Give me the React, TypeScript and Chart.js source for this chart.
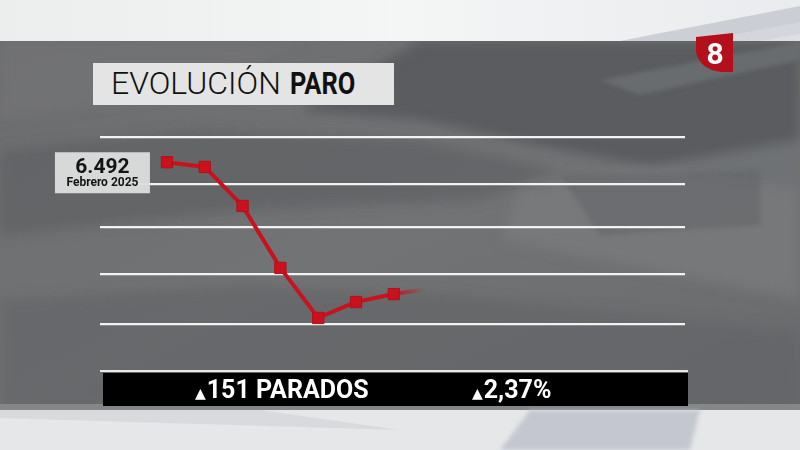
import React, { useEffect, useRef } from "react";
import { Chart, registerables } from "chart.js";

Chart.register(...registerables);

// ---- data ----
const months = ["Febrero 2025", "Marzo 2025", "Abril 2025", "Mayo 2025", "Junio 2025", "Julio 2025", "Agosto 2025"];
const parados = [6492, 6472, 6305, 6040, 5826, 5894, 5928];
const gridValues = [6600, 6399, 6214, 6014, 5800];
const titleLight = "EVOLUCIÓN";
const titleBold = "PARO";
const summaryParados = "151 PARADOS";
const summaryPct = "2,37%";
const channelLogo = "8";

const RED = "#c8121e";

function fmtThousands(v: number): string {
  return String(v).replace(/\B(?=(\d{3})+(?!\d))/g, ".");
}

const overlayPlugin = {
  id: "overlayPlugin",
  beforeDatasetsDraw(chart: any) {
    const pts = chart.getDatasetMeta(0).data;
    if (pts.length < 2) return;
    const ctx = chart.ctx;
    const a = pts[pts.length - 2];
    const b = pts[pts.length - 1];
    const dx = b.x - a.x;
    const dy = b.y - a.y;
    const len = Math.hypot(dx, dy);
    const ex = b.x + (dx / len) * 32;
    const ey = b.y + (dy / len) * 22;
    const g = ctx.createLinearGradient(b.x, b.y, ex, ey);
    g.addColorStop(0, "rgba(200,18,30,1)");
    g.addColorStop(1, "rgba(200,18,30,0)");
    ctx.save();
    ctx.strokeStyle = g;
    ctx.lineWidth = 4;
    ctx.lineCap = "butt";
    ctx.beginPath();
    ctx.moveTo(b.x, b.y);
    ctx.lineTo(ex, ey);
    ctx.stroke();
    ctx.restore();
  },
  afterDatasetsDraw(chart: any) {
    const pts = chart.getDatasetMeta(0).data;
    const p0 = pts[0];
    const ctx = chart.ctx;
    const w = 95;
    const h = 41;
    const x = p0.x - 17 - w;
    const y = p0.y - 10;
    ctx.save();
    ctx.fillStyle = "rgba(220,221,221,0.96)";
    ctx.fillRect(x, y, w, h);
    ctx.fillStyle = "#141414";
    ctx.textAlign = "center";
    ctx.textBaseline = "alphabetic";
    ctx.font = "bold 21px Roboto, 'DejaVu Sans', sans-serif";
    ctx.fillText(fmtThousands(parados[0]), x + w / 2, y + 21);
    ctx.font = "bold 12px Roboto, 'DejaVu Sans', sans-serif";
    ctx.fillText(months[0], x + w / 2, y + 34);
    ctx.restore();
  },
};

export default function App() {
  const canvasRef = useRef<HTMLCanvasElement | null>(null);

  useEffect(() => {
    if (!canvasRef.current) return;
    const chart = new Chart(canvasRef.current, {
      type: "line",
      data: {
        labels: months,
        datasets: [
          {
            data: parados.map((v, i) => ({ x: i, y: v })),
            borderColor: RED,
            borderWidth: 4,
            pointStyle: "rect",
            pointRadius: 8,
            pointBackgroundColor: RED,
            pointBorderColor: "#b50f1a",
            pointBorderWidth: 1,
            tension: 0,
            clip: false,
          } as any,
        ],
      },
      options: {
        animation: false,
        responsive: false,
        maintainAspectRatio: false,
        layout: { padding: { left: 100, right: 115, top: 137, bottom: 126 } },
        plugins: { legend: { display: false }, tooltip: { enabled: false } },
        scales: {
          x: { type: "linear", display: false, min: -1.77, max: 13.7 },
          y: {
            min: 5800,
            max: 6600,
            border: { display: false },
            ticks: { display: false },
            grid: { color: "#f2f2f2", lineWidth: 2.2, drawTicks: false },
            afterBuildTicks: (s: any) => {
              s.ticks = gridValues.map((v) => ({ value: v }));
            },
          },
        },
      } as any,
      plugins: [overlayPlugin],
    });
    return () => chart.destroy();
  }, []);

  return (
    <div
      style={{
        position: "fixed",
        left: 0,
        top: 0,
        width: 800,
        height: 450,
        overflow: "hidden",
        background: "#6d6e6f",
        fontFamily: "Roboto, 'DejaVu Sans', sans-serif",
      }}
    >
      <svg width={800} height={450} style={{ position: "absolute", left: 0, top: 0 }}>
        <defs>
          <linearGradient id="topband" x1="0" y1="0" x2="1" y2="0">
            <stop offset="0" stopColor="#eceeed" />
            <stop offset="0.5" stopColor="#f4f5f5" />
            <stop offset="1" stopColor="#eaebee" />
          </linearGradient>
          <linearGradient id="panel" x1="0" y1="0" x2="1" y2="1">
            <stop offset="0" stopColor="#6c6d6e" />
            <stop offset="0.5" stopColor="#727374" />
            <stop offset="1" stopColor="#6a6b6d" />
          </linearGradient>
          <filter id="blur" x="-10%" y="-10%" width="120%" height="120%">
            <feGaussianBlur stdDeviation="6" />
          </filter>
          <filter id="blur2" x="-10%" y="-10%" width="120%" height="120%">
            <feGaussianBlur stdDeviation="2" />
          </filter>
        </defs>
        {/* panel */}
        <rect x={0} y={41} width={800} height={370} fill="url(#panel)" />
        {/* dark swooshes */}
        <g filter="url(#blur)">
          <polygon points="420,41 800,41 800,190 700,175 560,150 420,120 300,110" fill="#56585c" opacity="0.85" />
          <polygon points="0,150 200,130 420,140 560,170 480,200 250,210 0,235" fill="#5c5e61" opacity="0.6" />
          <polygon points="520,190 800,140 800,300 600,260 500,240" fill="#7b7c7d" opacity="0.7" />
          <polygon points="0,300 250,285 450,295 690,320 800,330 800,411 0,411" fill="#616365" opacity="0.6" />
          <polygon points="0,41 300,41 200,90 0,120" fill="#747576" opacity="0.6" />
        </g>
        <g filter="url(#blur2)">
          <polygon points="600,80 800,42 800,60 640,95" fill="#6d6f72" opacity="0.8" />
          <polygon points="560,175 760,170 760,225 600,235" fill="#636568" opacity="0.55" />
        </g>
        {/* top light band */}
        <rect x={0} y={0} width={800} height={41} fill="url(#topband)" />
        <polygon points="620,41 800,6 800,34 760,41" fill="#c6c9d0" opacity="0.85" />
        <polygon points="700,41 800,22 800,41" fill="#d8dadf" opacity="0.7" />
        {/* bottom band */}
        <rect x={0} y={404} width={800} height={7} fill="#858688" />
        <rect x={0} y={410} width={800} height={40} fill="#e5e7e9" />
        <polygon points="500,450 530,410 700,410 690,450" fill="#b9bdc8" opacity="0.75" filter="url(#blur2)" />
        <polygon points="0,410 260,410 400,430 0,418" fill="#d0d2d5" opacity="0.6" />
        {/* logo */}
        <path d="M696,37 L733,33 L733,72 L722,72 Q700,70 696,52 Z" fill="#b3101b" />
        <text x={715} y={64} textAnchor="middle" fill="#ffffff" fontFamily="Roboto, 'DejaVu Sans', sans-serif" fontWeight="bold" fontSize={30}>
          {channelLogo}
        </text>
      </svg>

      <canvas ref={canvasRef} width={800} height={450} style={{ position: "absolute", left: 0, top: 0, width: 800, height: 450 }} />

      {/* title */}
      <div
        style={{
          position: "absolute",
          left: 93,
          top: 63,
          width: 301,
          height: 42,
          background: "#e3e4e3",
          color: "#111",
          fontSize: 31,
          lineHeight: "42px",
          whiteSpace: "nowrap",
          boxSizing: "border-box",
          paddingLeft: 18,
        }}
      >
        <span style={{ fontWeight: 300, display: "inline-block", transform: "scaleX(1.03)", transformOrigin: "left" }}>{titleLight}</span>
        <span
          style={{
            fontWeight: 700,
            display: "inline-block",
            marginLeft: 14,
            transform: "scaleX(0.82)",
            transformOrigin: "left",
          }}
        >
          {titleBold}
        </span>
      </div>

      {/* summary bar */}
      <div style={{ position: "absolute", left: 100, top: 370, width: 588, height: 2, background: "#e9e9e9" }} />
      <div
        style={{
          position: "absolute",
          left: 103,
          top: 373,
          width: 585,
          height: 33,
          background: "#000",
          color: "#fff",
          fontWeight: 700,
          fontSize: 25,
          lineHeight: "33px",
          whiteSpace: "nowrap",
        }}
      >
        <span style={{ position: "absolute", left: 92 }}>
          <span style={{ fontSize: 14, marginRight: 1 }}>▲</span>
          {summaryParados}
        </span>
        <span style={{ position: "absolute", left: 369 }}>
          <span style={{ fontSize: 14, marginRight: 1 }}>▲</span>
          {summaryPct}
        </span>
      </div>
    </div>
  );
}
